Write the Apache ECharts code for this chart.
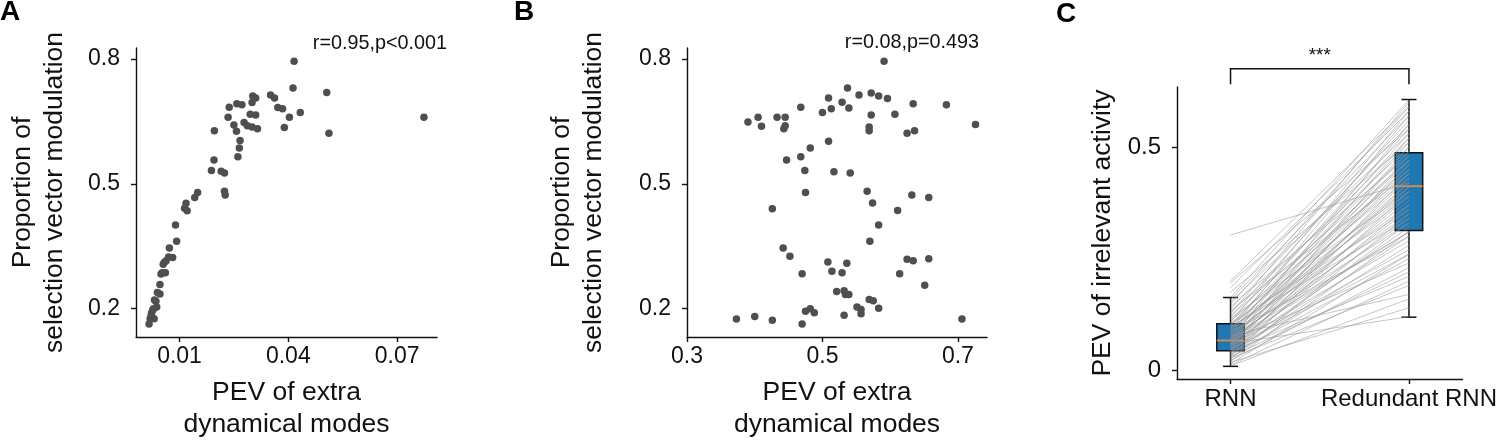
<!DOCTYPE html>
<html><head><meta charset="utf-8">
<script src="https://cdn.jsdelivr.net/npm/echarts@6/dist/echarts.min.js"></script>
<style>html,body{margin:0;padding:0;background:#fff}#c{width:1500px;height:446px}</style>
</head><body><div id="c"></div>
<script>
// ---- Panel A data ----
const aX = [0.0416,0.0413,0.0506,0.0512,0.0774,0.0433,0.0403,0.0389,0.0351,0.0362,0.0371,0.0384,0.0302,0.0310,0.0300,0.0295,0.0310,0.0315,0.0258,0.0272,0.0237,0.0234,0.0250,0.0257,0.0278,0.0287,0.0300,0.0267,0.0265,0.0261,0.0196,0.0195,0.0188,0.0215,0.0224,0.0224,0.0226,0.0150,0.0142,0.0118,0.0114,0.0121,0.0089,0.0092,0.0072,0.0081,0.0070,0.0058,0.0063,0.0052,0.0061,0.0046,0.0039,0.0046,0.0031,0.0037,0.0028,0.0023,0.0030,0.0019,0.0016,0.0022,0.0026,0.0035,0.0055,0.0049];
const aY = [0.794,0.730,0.719,0.621,0.660,0.671,0.660,0.635,0.713,0.706,0.683,0.680,0.711,0.706,0.695,0.667,0.665,0.632,0.692,0.690,0.684,0.660,0.641,0.626,0.647,0.639,0.636,0.604,0.586,0.565,0.627,0.557,0.532,0.530,0.526,0.482,0.473,0.479,0.467,0.453,0.441,0.435,0.401,0.362,0.346,0.323,0.324,0.311,0.315,0.286,0.286,0.258,0.239,0.235,0.221,0.204,0.200,0.190,0.176,0.176,0.163,0.184,0.196,0.218,0.307,0.283];
const aTicksX = [0.01, 0.04, 0.07];
const aTicksY = [0.2, 0.5, 0.8];
const aNote = 'r=0.95,p<0.001';

// ---- Panel B data ----
const bX = [0.591,0.537,0.554,0.572,0.583,0.596,0.509,0.529,0.539,0.513,0.500,0.468,0.634,0.683,0.607,0.572,0.726,0.636,0.625,0.569,0.569,0.390,0.405,0.410,0.433,0.445,0.445,0.443,0.509,0.482,0.468,0.447,0.474,0.517,0.541,0.475,0.566,0.632,0.657,0.574,0.426,0.611,0.583,0.570,0.442,0.452,0.625,0.634,0.657,0.508,0.536,0.514,0.529,0.470,0.614,0.651,0.521,0.532,0.534,0.539,0.569,0.575,0.551,0.557,0.583,0.557,0.532,0.475,0.482,0.488,0.470,0.373,0.400,0.426,0.706];
const bY = [0.794,0.730,0.713,0.718,0.711,0.705,0.706,0.696,0.682,0.680,0.671,0.684,0.692,0.690,0.667,0.665,0.642,0.627,0.621,0.636,0.627,0.648,0.660,0.638,0.660,0.660,0.639,0.632,0.602,0.586,0.565,0.557,0.532,0.529,0.526,0.479,0.482,0.473,0.467,0.454,0.440,0.436,0.401,0.362,0.346,0.326,0.319,0.315,0.320,0.312,0.309,0.290,0.286,0.284,0.284,0.256,0.241,0.243,0.234,0.234,0.222,0.219,0.204,0.198,0.201,0.188,0.184,0.194,0.200,0.190,0.163,0.175,0.181,0.172,0.175];
const bTicksX = [0.3, 0.5, 0.7];
const bTicksY = [0.2, 0.5, 0.8];
const bNote = 'r=0.08,p=0.493';

// ---- Panel C data ----
const cCategories = ['RNN', 'Redundant RNN'];
const cPositions = [1, 2];
const rnnVals = [0.012,0.015,0.018,0.020,0.022,0.025,0.027,0.029,0.031,0.033,
0.035,0.036,0.038,0.040,0.042,0.044,0.045,0.047,0.048,0.050,
0.051,0.053,0.054,0.056,0.057,0.058,0.060,0.061,0.062,0.064,
0.065,0.066,0.067,0.068,0.070,0.071,0.072,0.074,0.075,0.077,
0.078,0.080,0.082,0.083,0.085,0.086,0.088,0.090,0.092,0.094,
0.095,0.097,0.099,0.101,0.103,0.105,0.107,0.110,0.113,0.116,
0.119,0.122,0.126,0.130,0.134,0.138,0.143,0.148,0.153,0.158,
0.163,0.175,0.185,0.196,0.200,0.303,0.010,0.030,0.046,0.069];
const redVals = [0.20,0.26,0.14,0.31,0.23,0.35,0.19,0.28,0.40,0.33,
0.25,0.44,0.30,0.37,0.21,0.42,0.32,0.47,0.27,0.39,
0.34,0.50,0.29,0.43,0.36,0.46,0.12,0.41,0.31,0.52,
0.38,0.45,0.24,0.48,0.35,0.55,0.42,0.33,0.49,0.40,
0.17,0.46,0.37,0.53,0.44,0.30,0.51,0.41,0.57,0.39,
0.47,0.34,0.54,0.43,0.49,0.36,0.58,0.45,0.52,0.40,
0.56,0.47,0.60,0.50,0.44,0.55,0.48,0.59,0.53,0.57,
0.605,0.51,0.58,0.54,0.59,0.42,0.16,0.22,0.26,0.31];
// [low whisker, Q1, median, Q3, high whisker]
const rnnBox = [0.009, 0.044, 0.067, 0.1045, 0.163];
const redBox = [0.119, 0.313, 0.412, 0.487, 0.606];
const cTicksY = [0, 0.5];
const sigLevels = [0.640, 0.675];
const sigTextLevel = 0.705;
const sigText = '***';

// ---- chart ----
const FONT = "'Liberation Sans', Arial, Helvetica, sans-serif";
const INK = '#111';
const chart = echarts.init(document.getElementById('c'), null, {renderer: 'canvas'});

function axis(gi, min, max, ticks, extra) {
  return Object.assign({
    type: 'value', gridIndex: gi, min: min, max: max,
    axisLine: {show: true, onZero: false, lineStyle: {color: INK, width: 1.4}},
    axisTick: {show: true, customValues: ticks, length: 5, lineStyle: {color: INK, width: 1.4}},
    axisLabel: {customValues: ticks, fontSize: 23, color: INK, fontFamily: FONT, margin: 8},
    splitLine: {show: false},
    nameTextStyle: {fontSize: 26.5, lineHeight: 32, color: INK, fontFamily: FONT},
    nameLocation: 'middle'
  }, extra || {});
}

const xTitle = 'PEV of extra\ndynamical modes';
const yTitle = 'Proportion of\nselection vector modulation';

const xAxes = [
  axis(0, -0.002, 0.081, aTicksX, {name: xTitle, nameGap: 40}),
  axis(1, 0.3, 0.743, bTicksX, {name: xTitle, nameGap: 40}),
  axis(2, 0.7, 2.3, cPositions, {})
];
xAxes[2].axisLabel.formatter = v => cCategories[cPositions.indexOf(Math.round(v))] || '';
xAxes[2].axisLabel.fontSize = 24;

const yAxes = [
  axis(0, 0.132, 0.826, aTicksY, {name: yTitle, nameGap: 65}),
  axis(1, 0.132, 0.826, bTicksY, {name: yTitle, nameGap: 77}),
  axis(2, -0.0193, 0.634, cTicksY, {name: 'PEV of irrelevant activity', nameGap: 58})
];
yAxes.forEach(a => { a.axisLabel.margin = 16; });
yAxes[2].axisLabel.fontSize = 24;

const boxData = [[cPositions[0]].concat(rnnBox), [cPositions[1]].concat(redBox)];
const pairLines = rnnVals.map((v, i) => ({coords: [[cPositions[0], v], [cPositions[1], redVals[i]]]}));

const BOX_HALF = 0.077, CAP_HALF = 0.042;

function renderBox(params, api) {
  const x = api.value(0);
  const lo = api.value(1), q1 = api.value(2), md = api.value(3), q3 = api.value(4), hi = api.value(5);
  const c = (xx, yy) => api.coord([xx, yy]);
  const L = c(x - BOX_HALF, q3), R = c(x + BOX_HALF, q1);
  const st = {stroke: INK, lineWidth: 1.5, fill: null};
  const seg = (p1, p2, style) => ({type: 'line', shape: {x1: p1[0], y1: p1[1], x2: p2[0], y2: p2[1]}, style: style || st});
  return {type: 'group', children: [
    seg(c(x, q3), c(x, hi)),
    seg(c(x, q1), c(x, lo)),
    seg(c(x - CAP_HALF, hi), c(x + CAP_HALF, hi)),
    seg(c(x - CAP_HALF, lo), c(x + CAP_HALF, lo)),
    {type: 'rect', shape: {x: L[0], y: L[1], width: R[0] - L[0], height: R[1] - L[1]},
     style: {fill: '#1f77b4', stroke: INK, lineWidth: 1.5}},
    seg(c(x - BOX_HALF, md), c(x + BOX_HALF, md), {stroke: '#e8893a', lineWidth: 1.8})
  ]};
}

function renderSig(params, api) {
  const x1 = api.value(0), x2 = api.value(1);
  const p = [api.coord([x1, sigLevels[0]]), api.coord([x1, sigLevels[1]]), api.coord([x2, sigLevels[1]]), api.coord([x2, sigLevels[0]])];
  const t = api.coord([(x1 + x2) / 2, sigTextLevel]);
  return {type: 'group', children: [
    {type: 'polyline', shape: {points: p}, style: {stroke: INK, lineWidth: 1.5, fill: null}},
    {type: 'text', x: t[0], y: t[1], style: {text: sigText, fill: INK, fontSize: 19, fontFamily: FONT, align: 'center', verticalAlign: 'middle'}}
  ]};
}

const option = {
  animation: false,
  backgroundColor: '#fff',
  grid: [
    {left: 136, top: 48, width: 301, height: 293},
    {left: 687, top: 48, width: 300, height: 293},
    {left: 1177, top: 87, width: 300, height: 292}
  ],
  xAxis: xAxes,
  yAxis: yAxes,
  graphic: [
    {type: 'text', x: 0, y: 12, style: {text: 'A', fontSize: 28, fontWeight: 'bold', fontFamily: FONT, fill: '#000', align: 'left', verticalAlign: 'middle'}},
    {type: 'text', x: 514, y: 12, style: {text: 'B', fontSize: 28, fontWeight: 'bold', fontFamily: FONT, fill: '#000', align: 'left', verticalAlign: 'middle'}},
    {type: 'text', x: 1056, y: 14, style: {text: 'C', fontSize: 28, fontWeight: 'bold', fontFamily: FONT, fill: '#000', align: 'left', verticalAlign: 'middle'}},
    {type: 'text', x: 447, y: 44, style: {text: aNote, fontSize: 19.8, fontFamily: FONT, fill: INK, align: 'right', verticalAlign: 'middle'}},
    {type: 'text', x: 979, y: 43, style: {text: bNote, fontSize: 19.8, fontFamily: FONT, fill: INK, align: 'right', verticalAlign: 'middle'}}
  ],
  series: [
    {type: 'scatter', xAxisIndex: 0, yAxisIndex: 0, symbolSize: 7.5, itemStyle: {color: '#4f4f4f', opacity: 1},
     data: aX.map((v, i) => [v, aY[i]])},
    {type: 'scatter', xAxisIndex: 1, yAxisIndex: 1, symbolSize: 7.5, itemStyle: {color: '#4f4f4f', opacity: 1},
     data: bX.map((v, i) => [v, bY[i]])},
    {type: 'custom', xAxisIndex: 2, yAxisIndex: 2, z: 2, renderItem: renderBox, data: boxData,
     encode: {x: 0, y: [1, 2, 3, 4, 5]}},
    {type: 'lines', coordinateSystem: 'cartesian2d', xAxisIndex: 2, yAxisIndex: 2, z: 4, silent: true,
     lineStyle: {color: '#959595', width: 0.9, opacity: 0.6}, data: pairLines},
    {type: 'custom', xAxisIndex: 2, yAxisIndex: 2, z: 5, clip: false, renderItem: renderSig,
     data: [[cPositions[0], cPositions[1]]], encode: {x: [0, 1]}}
  ]
};
chart.setOption(option);
</script>
</body></html>
